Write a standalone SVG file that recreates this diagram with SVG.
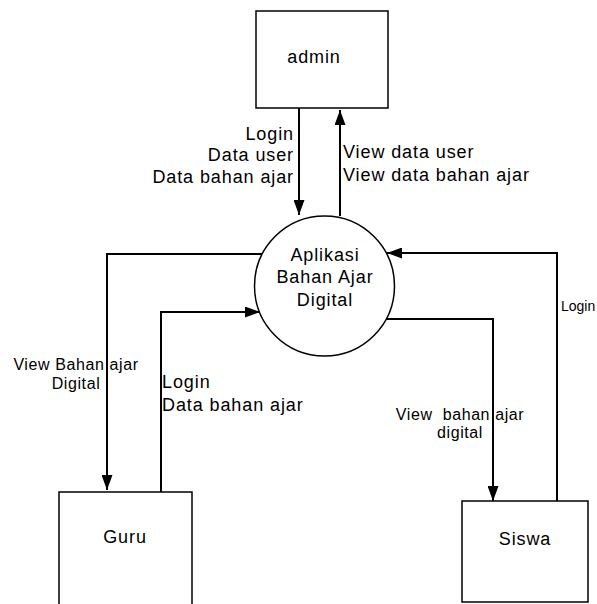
<svg xmlns="http://www.w3.org/2000/svg" width="597" height="604" viewBox="0 0 597 604">
  <defs>
    <marker id="arrow" markerUnits="userSpaceOnUse" markerWidth="15" markerHeight="11" refX="15" refY="5.5" orient="auto">
      <path d="M0,0 L15,5.5 L0,11 z" fill="#000"/>
    </marker>
    <style>
      .box { fill: #fff; stroke: #000; stroke-width: 1.5; }
      .flow { fill: none; stroke: #000; stroke-width: 2; marker-end: url(#arrow); }
      text { font-family: "Liberation Sans", Arial, sans-serif; fill: #000; }
      .node { font-size: 18px; letter-spacing: 0.9px; text-anchor: middle; }
      .lbl { font-size: 18px; letter-spacing: 0.9px; }
      .sm { font-size: 16px; letter-spacing: 0.6px; white-space: pre; }
      .xs { font-size: 14px; }
    </style>
  </defs>
  <rect width="597" height="604" fill="#fff"/>

  <g id="connectors">
    <path class="flow" d="M299,108 V215"/>
    <path class="flow" d="M340,216 V110"/>
    <path class="flow" d="M262,254 H107 V490"/>
    <path class="flow" d="M161,492 V312 H260"/>
    <path class="flow" d="M557,501 V253 H387"/>
    <path class="flow" d="M386,319 H493 V501"/>
  </g>

  <g id="admin">
    <rect class="box" x="256" y="11" width="132" height="97"/>
    <text class="node" x="314" y="63">admin</text>
  </g>

  <g id="aplikasi">
    <circle class="box" cx="324.5" cy="286" r="70"/>
    <text class="node" x="325" y="261">Aplikasi</text>
    <text class="node" x="325" y="283">Bahan Ajar</text>
    <text class="node" x="325" y="306">Digital</text>
  </g>

  <g id="guru">
    <rect class="box" x="59" y="492" width="133" height="120"/>
    <text class="node" x="125" y="543">Guru</text>
  </g>

  <g id="siswa">
    <rect class="box" x="462" y="501" width="126" height="101"/>
    <text class="node" x="525" y="545">Siswa</text>
  </g>

  <g id="labels">
    <text class="lbl" x="294" y="140" text-anchor="end">Login</text>
    <text class="lbl" x="294" y="161" text-anchor="end">Data user</text>
    <text class="lbl" x="294" y="183" text-anchor="end">Data bahan ajar</text>
    <text class="lbl" x="343" y="158">View data user</text>
    <text class="lbl" x="343" y="181">View data bahan ajar</text>
    <text class="sm" x="76" y="370" text-anchor="middle">View Bahan ajar</text>
    <text class="sm" x="76" y="389" text-anchor="middle">Digital</text>
    <text class="lbl" x="162" y="388">Login</text>
    <text class="lbl" x="162" y="411">Data bahan ajar</text>
    <text class="sm" x="460" y="420" text-anchor="middle">View  bahan ajar</text>
    <text class="sm" x="460" y="438" text-anchor="middle">digital</text>
    <text class="xs" x="561" y="311">Login</text>
  </g>
</svg>
